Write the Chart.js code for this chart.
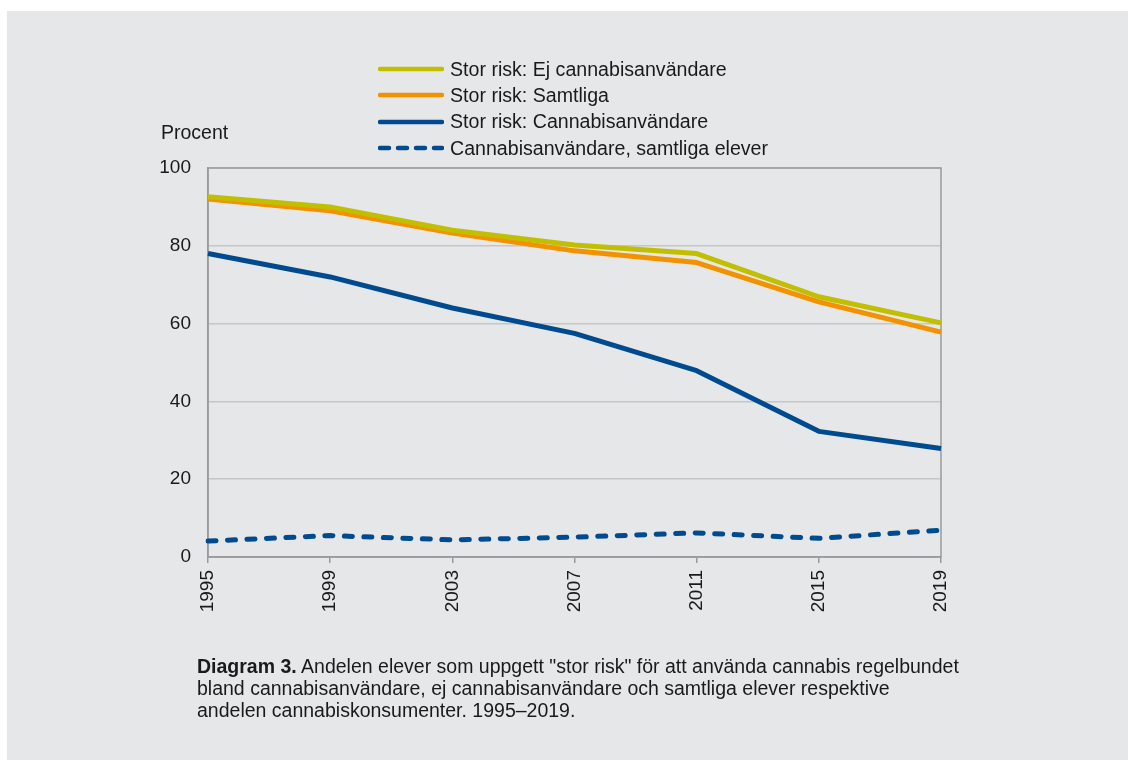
<!DOCTYPE html>
<html>
<head>
<meta charset="utf-8">
<script src="https://cdn.jsdelivr.net/npm/chart.js@4/dist/chart.umd.min.js"></script>
<style>
  html, body { margin: 0; padding: 0; background: #ffffff; }
  body { width: 1128px; height: 760px; position: relative; overflow: hidden; font-family: "Liberation Sans", Arial, sans-serif; color: #1a1a1a; }
  #panel { position: absolute; left: 7px; top: 11px; right: 0; bottom: 0; background: #e6e7e8; }
  #c { position: absolute; left: 0; top: 0; }
  #procent { position: absolute; left: 161px; top: 120px; font-size: 19.5px; line-height: 24px; }
  #legend { position: absolute; left: 378px; top: 56px; font-size: 19.6px; }
  .row { height: 26.3px; display: flex; align-items: center; }
  .row svg { margin-right: 6px; }
  #caption { position: absolute; left: 197px; top: 655px; font-size: 19.5px; line-height: 22px; width: 860px; white-space: nowrap; }
</style>
</head>
<body>
<div id="panel"></div>
<canvas id="c" width="1128" height="760"></canvas>
<div id="procent">Procent</div>
<div id="legend"></div>
<div id="caption"><b>Diagram 3.</b> Andelen elever som uppgett "stor risk" för att använda cannabis regelbundet<br>bland cannabisanvändare, ej cannabisanvändare och samtliga elever respektive<br>andelen cannabiskonsumenter. 1995–2019.</div>
<script>
const years = ['1995', '1999', '2003', '2007', '2011', '2015', '2019'];
const yTicks = [0, 20, 40, 60, 80, 100];
const seriesNames = [
  'Stor risk: Ej cannabisanvändare',
  'Stor risk: Samtliga',
  'Stor risk: Cannabisanvändare',
  'Cannabisanvändare, samtliga elever'
];
const ejCannabisanvandare = [92.6, 90.0, 84.0, 80.2, 78.0, 66.9, 60.2];
const samtliga = [92.0, 89.0, 83.3, 78.7, 75.7, 65.6, 57.8];
const cannabisanvandare = [78.0, 72.0, 64.0, 57.5, 47.9, 32.3, 27.9];
const cannabisSamtligaElever = [4.1, 5.5, 4.4, 5.1, 6.2, 4.8, 6.9];

const colors = ['#c1bf00', '#f39200', '#004a8f', '#004a8f'];
const dashed = [false, false, false, true];
const seriesData = [ejCannabisanvandare, samtliga, cannabisanvandare, cannabisSamtligaElever];

// HTML legend
const leg = document.getElementById('legend');
seriesNames.forEach((name, i) => {
  const row = document.createElement('div');
  row.className = 'row';
  const dash = dashed[i] ? ' stroke-dasharray="9 9"' : '';
  row.innerHTML = '<svg width="66" height="8"><line x1="2" y1="4" x2="64" y2="4" stroke="' + colors[i] +
    '" stroke-width="4.5" stroke-linecap="round"' + dash + '/></svg><span>' + name + '</span>';
  leg.appendChild(row);
});

const frame = {
  id: 'frame',
  beforeDatasetsDraw(chart) {
    const a = chart.chartArea, ctx = chart.ctx;
    ctx.save();
    ctx.strokeStyle = '#9a9a9a';
    ctx.lineWidth = 1.5;
    ctx.strokeRect(a.left, a.top, a.right - a.left, a.bottom - a.top);
    ctx.restore();
  }
};

new Chart(document.getElementById('c'), {
  type: 'line',
  data: {
    labels: years,
    datasets: seriesNames.map((name, i) => ({
      label: name,
      data: seriesData[i],
      borderColor: colors[i],
      backgroundColor: colors[i],
      borderWidth: 5,
      borderDash: dashed[i] ? [8, 11.5] : [],
      borderCapStyle: dashed[i] ? 'round' : 'butt',
      borderJoinStyle: 'round',
      pointRadius: 0,
      tension: 0,
      fill: false
    }))
  },
  options: {
    responsive: false,
    animation: false,
    layout: { padding: { left: 0, top: 168, right: 187, bottom: 0 } },
    plugins: { legend: { display: false }, tooltip: { enabled: false }, title: { display: false } },
    scales: {
      x: {
        offset: false,
        afterFit(s) { s.height = 203; },
        grid: { drawOnChartArea: false, drawTicks: true, tickLength: 6, color: '#9a9a9a', lineWidth: 1.5 },
        border: { display: true, color: '#9a9a9a', width: 1.5 },
        ticks: { minRotation: 90, maxRotation: 90, padding: 7, color: '#1a1a1a', font: { family: 'Liberation Sans', size: 19 } }
      },
      y: {
        min: 0, max: 100,
        afterFit(s) { s.width = 208; },
        afterBuildTicks(s) { s.ticks = yTicks.map(v => ({ value: v })); },
        grid: { drawTicks: false, color: '#c6c6c6', lineWidth: 1.5 },
        border: { display: true, color: '#9a9a9a', width: 1.5 },
        ticks: { padding: 17, color: '#1a1a1a', font: { family: 'Liberation Sans', size: 19 } }
      }
    }
  },
  plugins: [frame]
});
</script>
</body>
</html>
